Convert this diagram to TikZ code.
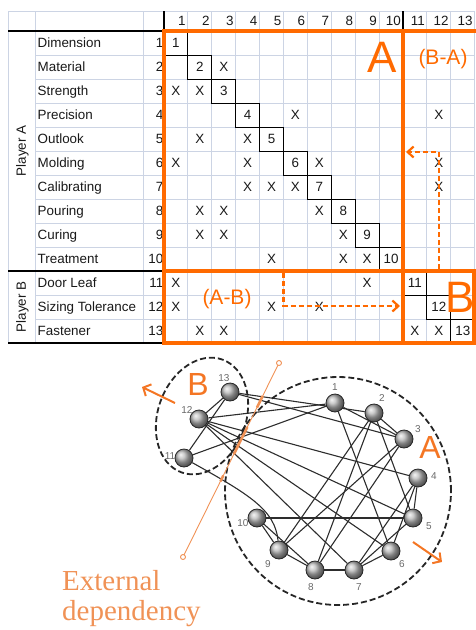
\documentclass[tikz,border=0pt]{standalone}
\usepackage{fontspec}
\setmainfont{Liberation Serif}
\setsansfont{Liberation Sans}
\usepackage{xcolor}
\usetikzlibrary{arrows.meta,calc,backgrounds}
\definecolor{dsmorange}{RGB}{255,106,0}
\definecolor{grporange}{RGB}{244,118,36}
\definecolor{extorange}{RGB}{240,146,86}
\definecolor{gridblue}{RGB}{204,212,228}
\definecolor{numgray}{RGB}{105,105,105}
\definecolor{edgegray}{RGB}{45,45,45}

\tikzset{
  gridline/.style={gridblue, line width=0.9},
  rulebk/.style={black, line width=1.1},
  diagbox/.style={black, line width=0.9},
  dsmframe/.style={dsmorange, line width=3.6},
  dsmflow/.style={dsmorange, line width=2.2, dash pattern=on 5pt off 3pt,
    -{Straight Barb[length=6pt,width=11pt]}},
  dsmtext/.style={inner sep=0.5pt, text height=9.6pt, text depth=0pt, text=black!90,
    font=\sffamily\fontsize{13.4}{15}\selectfont},
  bigletter/.style={inner sep=0pt, text height=32pt, text depth=0pt, text=dsmorange,
    font=\sffamily\fontsize{44}{48}\selectfont},
  regionlabel/.style={inner sep=0pt, text height=15pt, text depth=0pt, text=dsmorange,
    font=\sffamily\fontsize{21}{24}\selectfont},
  ballnode/.style={circle, minimum size=18pt, inner sep=0pt, ball color=gray!55,
    draw=black!85, line width=0.8},
  balllabel/.style={inner sep=0pt, text=numgray, font=\sffamily\fontsize{10}{12}\selectfont},
  linkline/.style={edgegray, line width=1.1},
  groupline/.style={black!85, line width=1.8, dash pattern=on 6pt off 3pt},
  grplabel/.style={inner sep=0pt, text height=23pt, text depth=0pt, text=grporange,
    font=\sffamily\fontsize{32}{36}\selectfont},
  grparrow/.style={grporange, line width=2, -{Straight Barb[length=6pt,width=13pt]}},
  extline/.style={extorange, line width=0.9},
  exttext/.style={inner sep=0pt, text=extorange, font=\rmfamily\fontsize{29}{30}\selectfont}
}

\begin{document}
\begin{tikzpicture}[x=1pt, y=-1pt]
\useasboundingbox (0,0) rectangle (476,630);

% grid of the matrix
\draw[gridline] (8,11) -- (475,11);
\foreach \r in {0,...,13}
  \draw[gridline] (35,{31+24*\r}) -- (475,{31+24*\r});
\foreach \x in {8,35,143}
  \draw[gridline] (\x,11) -- (\x,343);
\foreach \c in {0,...,13}
  \draw[gridline] ({164+23.9*\c},11) -- ({164+23.9*\c},343);

% black rules
\draw[rulebk] (8,31) -- (164,31);
\draw[rulebk] (164,11) -- (164,31);
\draw[rulebk] (403,11) -- (403,31);
\draw[rulebk] (8,271) -- (164,271);
\draw[rulebk] (8,343) -- (164,343);

% row and column heads
\node[dsmtext, rotate=90] (playerA) at (21,151) {Player A};
\node[dsmtext, rotate=90] (playerB) at (21,307) {Player B};
\foreach \name [count=\i] in {Dimension,Material,Strength,Precision,Outlook,Molding,Calibrating,Pouring,Curing,Treatment,Door Leaf,Sizing Tolerance,Fastener}
{
  \node[dsmtext, anchor=west] (name\i) at (37,{19+24*\i}) {\name};
  \node[dsmtext, anchor=east] (num\i) at (164,{19+24*\i}) {\i};
  \node[dsmtext, anchor=east] (col\i) at ({164+23.9*\i-1.5},21) {\i};
}

% diagonal
\foreach \i in {1,...,13}
{
  \draw[diagbox] ({164+23.9*(\i-1)},{31+24*(\i-1)}) rectangle ++(23.9,24);
  \node[dsmtext] (d\i) at ({164+23.9*(\i-0.5)},{19+24*\i}) {\i};
}

% dependencies
\foreach \r/\c in {2/3,3/1,3/2,4/6,4/12,5/2,5/4,6/1,6/4,6/7,6/12,7/4,7/5,7/6,7/12,
  8/2,8/3,8/7,9/2,9/3,9/8,10/5,10/8,10/9,11/1,11/9,12/1,12/5,12/7,13/2,13/3,13/11,13/12}
  \node[dsmtext] (x\r-\c) at ({164+23.9*(\c-0.5)},{19+24*\r}) {X};

% player frames
\draw[dsmframe] (476,31) -- (164,31) -- (164,343) -- (474,343) -- (474,271) -- (164,271);
\draw[dsmframe] (403,31) -- (403,343);

\node[bigletter] (lab-A) at (382,56) {A};
\node[bigletter] (lab-B) at (460,296) {B};
\node[regionlabel] (lab-BA) at (443,57) {(B-A)};
\node[regionlabel] (lab-AB) at (227,297) {(A-B)};

% cross-player flows
\coordinate (ba-from) at (439,269);
\coordinate (ba-bend) at (439,152);
\coordinate (ba-to) at (406,152);
\draw[dsmflow] (ba-from) -- (ba-bend) -- (ba-to);
\coordinate (ab-from) at (283.5,273);
\coordinate (ab-bend) at (283.5,306);
\coordinate (ab-to) at (400,306);
\draw[dsmflow] (ab-from) -- (ab-bend) -- (ab-to);

% network
\foreach \i/\x/\y in {1/335/403, 2/374/413, 3/404/439, 4/418/478, 5/413/518, 6/391/551,
  7/354/570, 8/315/570, 9/279/550, 10/257/518, 11/184/458, 12/199/419, 13/230/392}
  \node[ballnode] (n\i) at (\x,\y) {};
\foreach \i/\x/\y in {1/335/387, 2/382/398, 3/418/429, 4/434/476, 5/429/526, 6/402/564,
  7/359/587, 8/311/587, 9/268/564, 10/243/523, 11/170/456, 12/187/410, 13/224/378}
  \node[balllabel] (lab\i) at (\x,\y) {\i};

\begin{scope}[on background layer]
  \foreach \a/\b in {1/3,2/3,1/6,1/11,1/12,2/5,2/8,2/9,2/13,3/8,3/9,3/13,4/5,4/6,4/7,4/12,
    5/7,5/10,5/12,6/7,6/12,7/8,7/12,8/9,8/10,9/10,11/13,12/13}
    \draw[linkline] (n\a) -- (n\b);
  \draw[linkline] (n11) .. controls (250,495) and (275,510) .. (n9);
\end{scope}

\draw[groupline] (338,491) ellipse [x radius=113pt, y radius=114pt];
\draw[groupline, rotate around={-20:(202,416)}] (202,416) ellipse [x radius=44pt, y radius=60pt];

\node[grplabel] (grpA) at (430,447) {A};
\node[grplabel] (grpB) at (198,384) {B};
\coordinate (arrB-tail) at (175,403);
\coordinate (arrB-head) at (142,387);
\coordinate (arrA-tail) at (413,542);
\coordinate (arrA-head) at (442,562);
\draw[grparrow] (arrB-tail) -- (arrB-head);
\draw[grparrow] (arrA-tail) -- (arrA-head);

% external dependency
\coordinate (ext-top) at (279,363);
\coordinate (ext-bot) at (183,557);
\draw[extline] (ext-top) -- (ext-bot);
\foreach \s/\e in {0.17/0.23, 0.33/0.47, 0.58/0.61}
  \draw[extline, line width=2.6] ($(ext-top)!\s!(ext-bot)$) -- ($(ext-top)!\e!(ext-bot)$);
\draw[extline, fill=white] (ext-top) circle [radius=2.5pt];
\draw[extline, fill=white] (ext-bot) circle [radius=2.5pt];
\node[exttext, anchor=base west] (ext-word1) at (62,590) {External};
\node[exttext, anchor=base west] (ext-word2) at (62,620) {dependency};
\end{tikzpicture}
\end{document}
